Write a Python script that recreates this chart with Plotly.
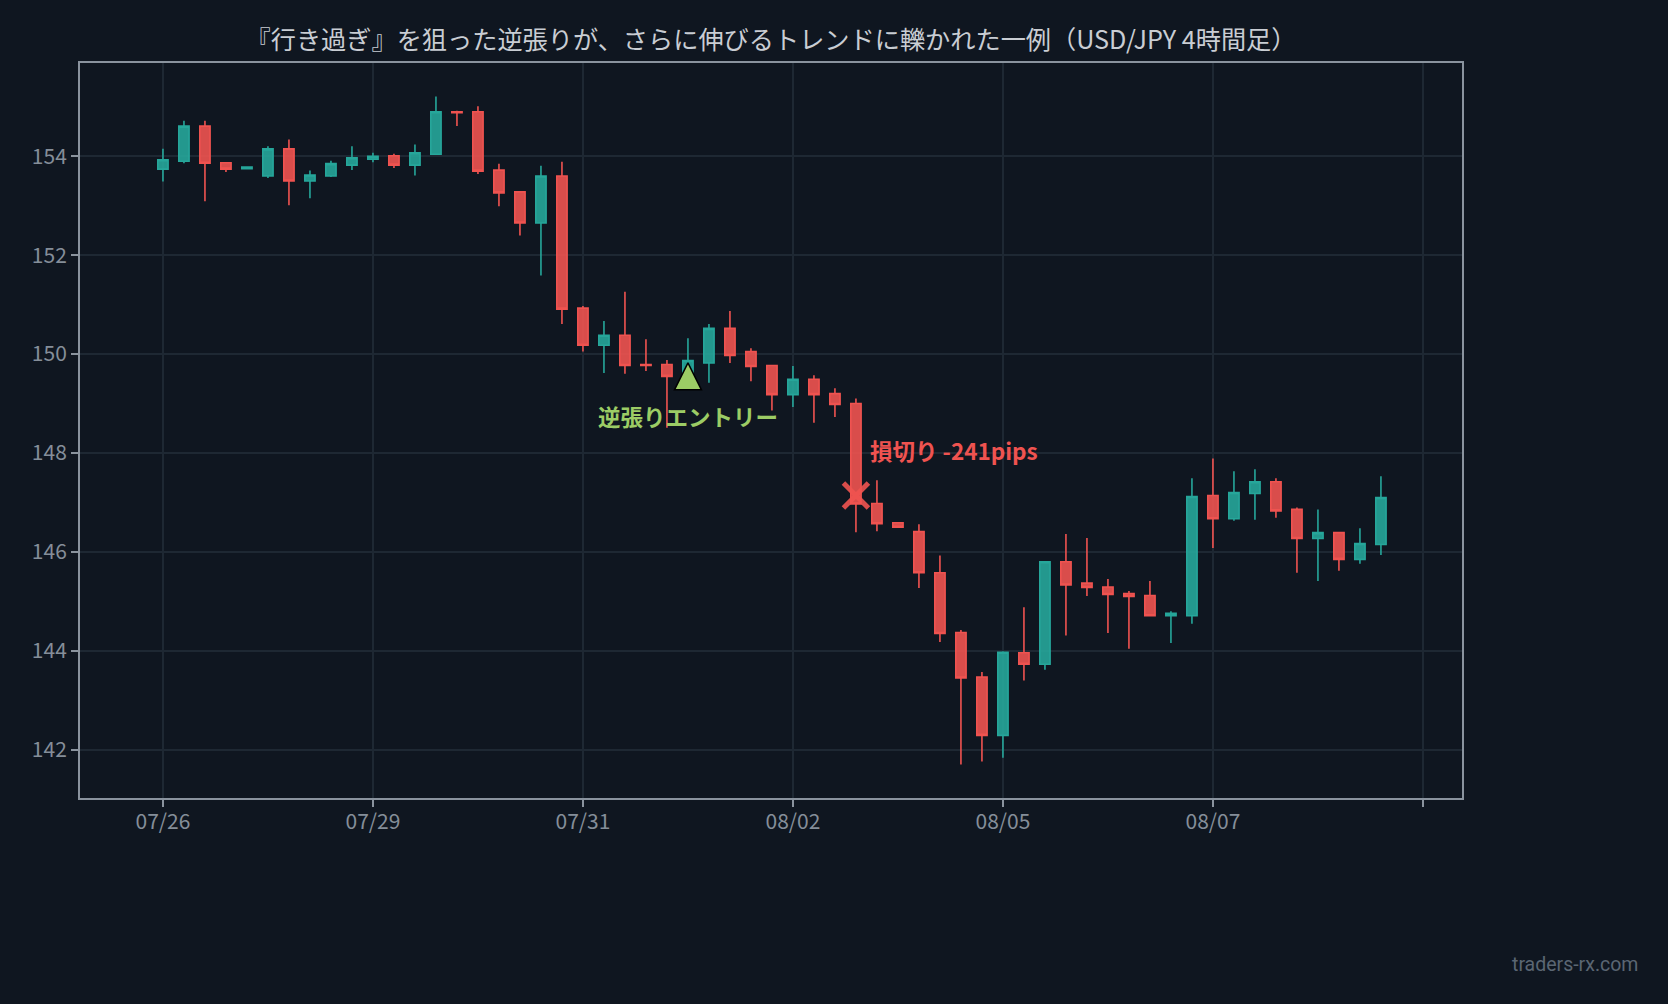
import plotly.graph_objects as go

# ---- data (USD/JPY 4h candles, index-based x) ----
idx = list(range(59))
opens = [153.74, 153.90, 154.61, 153.87, 153.75, 153.60, 154.15, 153.50, 153.60, 153.82,
         153.94, 154.01, 153.82, 154.04, 154.90, 154.90, 153.72, 153.28, 152.65, 153.60,
         150.93, 150.18, 150.38, 149.79, 149.79, 149.55, 149.82, 150.52, 150.05, 149.77,
         149.18, 149.49, 149.20, 149.00, 146.98, 146.59, 146.41, 145.58, 144.37, 143.47,
         142.29, 143.96, 143.73, 145.80, 145.37, 145.29, 145.16, 145.12, 144.71, 144.71,
         147.14, 146.67, 147.18, 147.42, 146.86, 146.27, 146.39, 145.85, 146.15]
highs = [154.15, 154.72, 154.72, 153.88, 153.80, 154.20, 154.34, 153.71, 153.91, 154.20,
         154.07, 154.05, 154.24, 155.21, 154.92, 155.01, 153.85, 153.28, 153.81, 153.89,
         150.97, 150.67, 151.26, 150.30, 149.88, 150.32, 150.61, 150.87, 150.12, 149.77,
         149.76, 149.57, 149.31, 149.10, 147.45, 146.59, 146.56, 145.93, 144.42, 143.57,
         143.99, 144.88, 145.80, 146.36, 146.28, 145.45, 145.21, 145.41, 144.80, 147.49,
         147.89, 147.63, 147.67, 147.49, 146.90, 146.86, 146.39, 146.48, 147.53]
lows = [153.49, 153.86, 153.09, 153.68, 153.74, 153.56, 153.01, 153.15, 153.58, 153.72,
        153.88, 153.76, 153.61, 154.04, 154.61, 153.64, 152.99, 152.40, 151.59, 150.61,
        150.05, 149.62, 149.60, 149.66, 148.51, 149.45, 149.42, 149.82, 149.45, 148.86,
        148.93, 148.61, 148.73, 146.40, 146.42, 146.49, 145.27, 144.18, 141.70, 141.76,
        141.84, 143.40, 143.62, 144.31, 145.11, 144.36, 144.04, 144.71, 144.16, 144.55,
        146.08, 146.63, 146.65, 146.69, 145.58, 145.41, 145.62, 145.76, 145.94]
closes = [153.93, 154.61, 153.86, 153.74, 153.78, 154.15, 153.50, 153.62, 153.85, 153.97,
          154.00, 153.82, 154.07, 154.90, 154.88, 153.70, 153.26, 152.65, 153.60, 150.91,
          150.18, 150.38, 149.77, 149.77, 149.55, 149.87, 150.52, 149.97, 149.75, 149.18,
          149.49, 149.18, 148.98, 146.97, 146.57, 146.50, 145.58, 144.35, 143.45, 142.29,
          143.97, 143.73, 145.80, 145.33, 145.28, 145.14, 145.10, 144.71, 144.76, 147.12,
          146.67, 147.20, 147.42, 146.83, 146.27, 146.39, 145.85, 146.17, 147.10]

tick_pos = [0, 10, 20, 30, 40, 50, 60]
tick_labels = ["07/26", "07/29", "07/31", "08/02", "08/05", "08/07", ""]

entry_idx = 25
entry_price = 149.55
stop_idx = 33
loss_pips = 241
stop_price = entry_price - loss_pips / 100

title_text = "『行き過ぎ』を狙った逆張りが、さらに伸びるトレンドに轢かれた一例（USD/JPY 4時間足）"
entry_label = "逆張りエントリー"
stop_label = f"損切り -{loss_pips}pips"
watermark = "traders-rx.com"

# ---- styling ----
BG = "#0f1620"
GRID = "#1e2833"
AXIS = "#8a939e"
UP = "#26a69a"
DN = "#ef5350"
GREEN = "#9ccc65"
FONT = "Noto Sans CJK JP"

ylo, yhi = min(lows), max(highs)
pad = 0.05 * (yhi - ylo)

fig = go.Figure()
fig.add_trace(go.Candlestick(
    x=idx, open=opens, high=highs, low=lows, close=closes,
    increasing=dict(line=dict(color=UP, width=1.6), fillcolor="rgba(38,166,154,0.9)"),
    decreasing=dict(line=dict(color=DN, width=1.6), fillcolor="rgba(239,83,80,0.9)"),
    whiskerwidth=0, showlegend=False, hoverinfo="skip",
))
fig.add_trace(go.Scatter(
    x=[entry_idx], y=[entry_price], mode="markers", showlegend=False, hoverinfo="skip",
    marker=dict(symbol="arrow-down", angle=180, standoff=13.5, size=27, color=GREEN,
                line=dict(color="#000000", width=1.5)),
))
fig.add_trace(go.Scatter(
    x=[stop_idx], y=[stop_price], mode="markers", showlegend=False, hoverinfo="skip",
    marker=dict(symbol="x-thin", size=25, color="rgba(239,83,80,0.9)",
                line=dict(color="rgba(239,83,80,0.9)", width=5)),
))

fig.add_annotation(x=entry_idx, y=entry_price, text=f"<b>{entry_label}</b>", showarrow=False,
                   yshift=-40, font=dict(family=FONT, size=22.5, color=GREEN))
fig.add_annotation(x=stop_idx, y=stop_price, text=f"<b>{stop_label}</b>", showarrow=False,
                   xanchor="left", xshift=12, yshift=46, font=dict(family=FONT, size=22.5, color=DN))
fig.add_annotation(xref="paper", yref="paper", x=1.1288, y=-0.2272, xanchor="right", yanchor="middle",
                   text=watermark, showarrow=False, font=dict(family="Roboto", size=19.5, color="#5b6673"))

axis_common = dict(showline=True, mirror=True, linecolor=AXIS, linewidth=2,
                   ticks="outside", ticklen=7, tickwidth=2, tickcolor=AXIS,
                   showgrid=True, gridcolor=GRID, gridwidth=1.5, zeroline=False,
                   tickfont=dict(family=FONT, size=21, color="#858e99"))

fig.update_layout(
    width=1668, height=1004,
    paper_bgcolor=BG, plot_bgcolor=BG,
    margin=dict(l=80, r=206, t=63, b=206),
    font=dict(family=FONT, color=AXIS),
    title=dict(text=title_text, x=0.5, xref="paper", xanchor="center",
               y=1 - 40 / 1004, yref="container", yanchor="middle",
               font=dict(family=FONT, size=25.2, color="#c9cdd3")),
    xaxis=dict(range=[-3.95, 61.86], tickmode="array", tickvals=tick_pos, ticktext=tick_labels,
               ticklabelstandoff=-3, rangeslider=dict(visible=False), **axis_common),
    yaxis=dict(range=[ylo - pad, yhi + pad], tickmode="linear", tick0=0, dtick=2, **axis_common),
    showlegend=False,
)

fig.write_html("out.html")
